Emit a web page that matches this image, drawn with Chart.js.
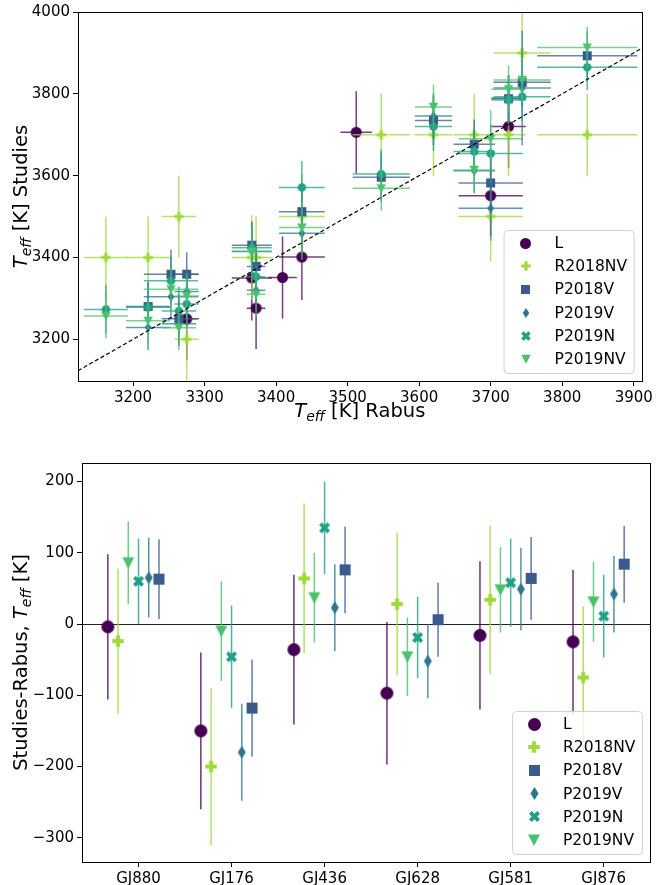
<!DOCTYPE html>
<html>
<head>
<meta charset="utf-8">
<script src="https://cdn.jsdelivr.net/npm/chart.js@4.4.1/dist/chart.umd.min.js"></script>
<style>
  body { margin: 0; background: #fff; }
  #wrap { position: relative; width: 656px; height: 885px; }
  canvas { position: absolute; left: 0; }
</style>
</head>
<body>
<div id="wrap">
  <canvas id="topChart" width="656" height="430" style="top:0"></canvas>
  <canvas id="bottomChart" width="656" height="455" style="top:430px"></canvas>
</div>
<script>
// ---- top panel: Teff of each star, Rabus (x) vs the studies (y) ----
const rabusTeff = [3162, 3221, 3253, 3264, 3275, 3366, 3372, 3409, 3436, 3512, 3547, 3620, 3677, 3700, 3725, 3744, 3835];
const rabusErr  = [31, 31, 38, 24, 17, 28, 13, 20, 32, 22, 40, 26, 29, 45, 24, 40, 70];

const teffL       = [null, null, null, null, 3250, 3350, 3276, 3351, 3401, 3706, null, null, null, 3551, 3720, null, null];
const errL        = [null, null, null, null, 101, 104, 100, 100, 105, 100, null, null, null, 110, 102, null, null];
const teffR2018NV = [3400, 3400, null, 3500, 3200, 3400, 3400, null, 3500, null, 3700, 3700, 3700, 3500, 3700, 3900, 3700];
const errR2018NV  = [100, 100, null, 100, 100, 104, 100, null, 105, null, 100, 100, 100, 110, 102, 100, 100];
const teffP2018V  = [null, 3280, 3359, 3250, 3359, 3430, 3378, null, 3512, null, 3596, 3735, 3677, 3582, 3788, 3828, 3893];
const errP2018V   = [null, 60, 60, 60, 54, 58, 52, null, 61, null, 60, 60, 60, 68, 56, 60, 60];
const teffP2019V  = [null, 3229, 3304, 3238, 3317, 3415, 3320, null, 3459, null, null, 3746, 3612, 3520, 3790, 3814, null];
const errP2019V   = [null, 55, 55, 55, 54, 58, 52, null, 61, null, null, 55, 55, 68, 56, 140, null];
const teffP2019N  = [3273, 3278, 3343, 3269, 3286, 3424, 3353, null, 3571, null, 3604, 3720, 3659, 3654, 3785, 3793, 3865];
const errP2019N   = [60, 60, 60, 60, 58, 62, 57, null, 65, null, 60, 60, 60, 72, 60, 60, 56];
const teffP2019NV = [3257, 3245, 3322, 3228, 3306, 3414, 3310, null, 3473, null, 3569, 3768, 3614, 3690, 3811, 3834, 3913];
const errP2019NV  = [55, 55, 55, 55, 56, 60, 55, null, 63, null, 55, 55, 55, 70, 58, 55, 51];

// ---- bottom panel: Studies - Rabus per star ----
const stars       = ['GJ880', 'GJ176', 'GJ436', 'GJ628', 'GJ581', 'GJ876'];
const diffL       = [-4, -150, -36, -97, -16, -25];
const dErrL       = [102, 110, 105, 100, 104, 101];
const diffR2018NV = [-24, -200, 64, 28, 34, -75];
const dErrR2018NV = [102, 110, 105, 100, 104, 100];
const diffP2018V  = [63, -118, 76, 6, 64, 84];
const dErrP2018V  = [56, 68, 61, 52, 58, 54];
const diffP2019V  = [65, -180, 23, -52, 49, 42];
const dErrP2019V  = [56, 68, 61, 52, 58, 54];
const diffP2019N  = [60, -46, 135, -19, 58, 11];
const dErrP2019N  = [60, 72, 65, 57, 62, 58];
const diffP2019NV = [86, -10, 37, -46, 48, 31];
const dErrP2019NV = [58, 70, 63, 55, 60, 56];

const topXTicks = [3200, 3300, 3400, 3500, 3600, 3700, 3800, 3900];
const topYTicks = [3200, 3400, 3600, 3800, 4000];
const botYTicks = [-300, -200, -100, 0, 100, 200];

const FONT = 'DejaVu Sans';
Chart.defaults.font.family = FONT;
Chart.defaults.font.size = 15;
Chart.defaults.color = '#000';
Chart.defaults.animation = false;

const names  = ['L', 'R2018NV', 'P2018V', 'P2019V', 'P2019N', 'P2019NV'];
const colors = ['#440154', '#a0da39', '#3a5b8c', '#2a788e', '#20a086', '#4ac16d'];

function rgba(hex, a) {
  const n = parseInt(hex.slice(1), 16);
  return 'rgba(' + (n >> 16) + ',' + ((n >> 8) & 255) + ',' + (n & 255) + ',' + a + ')';
}

function poly(g, pts) {
  g.moveTo(pts[0][0], pts[0][1]);
  for (let i = 1; i < pts.length; i++) g.lineTo(pts[i][0], pts[i][1]);
  g.closePath();
}

// matplotlib-like filled markers as small canvases
function makeMarker(shape, size, color, wd) {
  wd = wd || size;
  const dim = Math.ceil(Math.max(size, wd)) + 2;
  const c = document.createElement('canvas');
  c.width = dim; c.height = dim;
  const g = c.getContext('2d');
  g.translate(dim / 2, dim / 2);
  g.fillStyle = color;
  const r = size / 2, rw = wd / 2;
  g.beginPath();
  if (shape === 'o') g.arc(0, 0, r, 0, Math.PI * 2);
  else if (shape === 's') g.rect(-r, -r, size, size);
  else if (shape === 'd') poly(g, [[0, -r], [rw, 0], [0, r], [-rw, 0]]);
  else if (shape === 'v') poly(g, [[-r, -r * 0.9], [r, -r * 0.9], [0, r]]);
  else if (shape === 'P') {
    const t = size / 6;
    poly(g, [[-t, -r], [t, -r], [t, -t], [r, -t], [r, t], [t, t], [t, r], [-t, r], [-t, t], [-r, t], [-r, -t], [-t, -t]]);
  } else if (shape === 'X') {
    const u = size / 4;
    poly(g, [[-u, -2 * u], [0, -u], [u, -2 * u], [2 * u, -u], [u, 0], [2 * u, u], [u, 2 * u], [0, u], [-u, 2 * u], [-2 * u, u], [-u, 0], [-2 * u, -u]]);
  }
  g.fill();
  return c;
}

const topMarkers = [
  makeMarker('o', 11, colors[0]),
  makeMarker('P', 9.5, colors[1]),
  makeMarker('s', 9, colors[2]),
  makeMarker('d', 10, colors[3], 6.5),
  makeMarker('o', 8.5, colors[4]),
  makeMarker('v', 9.5, colors[5])
];
const topLegendMarkers = topMarkers.slice();
topLegendMarkers[4] = makeMarker('X', 9.5, colors[4]);

const botMarkers = [
  makeMarker('o', 13, colors[0]),
  makeMarker('P', 11.5, colors[1]),
  makeMarker('s', 11, colors[2]),
  makeMarker('d', 13, colors[3], 8),
  makeMarker('X', 11, colors[4]),
  makeMarker('v', 12, colors[5])
];

// draw "T_eff" style label pieces centred at (cx, cy)
function drawMathLabel(ctx, parts, cx, cy, rot) {
  ctx.save();
  ctx.translate(cx, cy);
  if (rot) ctx.rotate(-Math.PI / 2);
  ctx.fillStyle = '#000';
  ctx.textBaseline = 'alphabetic';
  ctx.textAlign = 'left';
  const fonts = { n: '19.5px ' + FONT, i: 'italic 19.5px ' + FONT, s: 'italic 14px ' + FONT };
  let total = 0;
  parts.forEach(p => { ctx.font = fonts[p[1]]; total += ctx.measureText(p[0]).width; });
  let x = -total / 2;
  parts.forEach(p => {
    ctx.font = fonts[p[1]];
    ctx.fillText(p[0], x, p[1] === 's' ? 11 : 7);
    x += ctx.measureText(p[0]).width;
  });
  ctx.restore();
}

function makeDecor(cfg) {
  return {
    id: 'decor',
    beforeDatasetsDraw(chart) {
      if (!cfg.zeroLine) return;
      const a = chart.chartArea, ctx = chart.ctx;
      const y = Math.round(chart.scales.y.getPixelForValue(0)) + 0.5;
      ctx.save();
      ctx.strokeStyle = '#222';
      ctx.lineWidth = 1;
      ctx.beginPath(); ctx.moveTo(a.left, y); ctx.lineTo(a.right, y); ctx.stroke();
      ctx.restore();
    },
    beforeDatasetDraw(chart, args) {
      const ds = chart.data.datasets[args.index];
      if (!ds.errY) return;
      const a = chart.chartArea, ctx = chart.ctx;
      const xs = chart.scales.x, ys = chart.scales.y;
      ctx.save();
      ctx.beginPath(); ctx.rect(a.left, a.top, a.right - a.left, a.bottom - a.top); ctx.clip();
      ctx.strokeStyle = ds.barColor;
      ctx.lineWidth = 1.5;
      ds.data.forEach((p, i) => {
        const px = xs.getPixelForValue(p.x), py = ys.getPixelForValue(p.y);
        ctx.beginPath();
        ctx.moveTo(px, ys.getPixelForValue(p.y - ds.errY[i]));
        ctx.lineTo(px, ys.getPixelForValue(p.y + ds.errY[i]));
        if (ds.errX) {
          ctx.moveTo(xs.getPixelForValue(p.x - ds.errX[i]), py);
          ctx.lineTo(xs.getPixelForValue(p.x + ds.errX[i]), py);
        }
        ctx.stroke();
      });
      ctx.restore();
    },
    afterDraw(chart) {
      const a = chart.chartArea, ctx = chart.ctx;
      ctx.save();
      // frame
      ctx.strokeStyle = '#000';
      ctx.lineWidth = 1;
      ctx.strokeRect(Math.round(a.left) + 0.5, Math.round(a.top) + 0.5,
                     Math.round(a.right - a.left), Math.round(a.bottom - a.top));
      ctx.restore();
      // axis titles
      if (cfg.xTitle) drawMathLabel(ctx, cfg.xTitle, (a.left + a.right) / 2, cfg.xTitleY, false);
      drawMathLabel(ctx, cfg.yTitle, 20, (a.top + a.bottom) / 2, true);
      // legend box in lower right corner
      const bw = 130, rowH = 23.2, bh = 143;
      const bx = a.right - 8 - bw, by = a.bottom - 8 - bh;
      ctx.save();
      ctx.fillStyle = 'rgba(255,255,255,0.8)';
      ctx.strokeStyle = 'rgba(204,204,204,0.9)';
      ctx.lineWidth = 1;
      ctx.beginPath();
      ctx.roundRect(bx + 0.5, by + 0.5, bw, bh, 4);
      ctx.fill(); ctx.stroke();
      ctx.fillStyle = '#000';
      ctx.font = '15.5px ' + FONT;
      ctx.textBaseline = 'middle';
      ctx.textAlign = 'left';
      names.forEach((n, k) => {
        const cy = by + 13 + k * rowH;
        const m = cfg.legendMarkers[k];
        ctx.drawImage(m, Math.round(bx + 22 - m.width / 2), Math.round(cy - m.height / 2));
        ctx.fillText(n, bx + 51, cy + 1);
      });
      ctx.restore();
    }
  };
}

const minus = v => String(v).replace('-', '\u2212');

function axisBase(extra) {
  return Object.assign({
    type: 'linear',
    grid: { drawOnChartArea: false, drawTicks: true, tickLength: 5, tickColor: '#000', tickWidth: 1 },
    border: { display: true, color: '#000', width: 1 },
    ticks: { color: '#000', font: { size: 15 }, padding: 3, autoSkip: false, maxRotation: 0 }
  }, extra);
}

// ---------- top chart ----------
const topSeries = [
  [teffL, errL], [teffR2018NV, errR2018NV], [teffP2018V, errP2018V],
  [teffP2019V, errP2019V], [teffP2019N, errP2019N], [teffP2019NV, errP2019NV]
];
const topXMin = 3123, topXMax = 3911;

const topDatasets = topSeries.map((s, k) => {
  const pts = [], ex = [], ey = [];
  rabusTeff.forEach((x, i) => {
    if (s[0][i] === null) return;
    pts.push({ x: x, y: s[0][i] });
    ex.push(rabusErr[i]);
    ey.push(s[1][i]);
  });
  return {
    label: names[k], data: pts, errX: ex, errY: ey,
    barColor: rgba(colors[k], 0.75),
    pointStyle: topMarkers[k], pointRadius: 5, pointHoverRadius: 5,
    backgroundColor: colors[k], borderColor: colors[k],
    order: 10 - k
  };
});
topDatasets.push({
  type: 'line', label: '1:1',
  data: [{ x: topXMin, y: topXMin }, { x: topXMax, y: topXMax }],
  borderColor: '#000', borderWidth: 1.2, borderDash: [4, 2.5],
  pointRadius: 0, fill: false, order: 0
});

new Chart(document.getElementById('topChart'), {
  type: 'scatter',
  data: { datasets: topDatasets },
  options: {
    responsive: false,
    layout: { padding: { left: 0, right: 14, top: 12, bottom: 0 } },
    plugins: { legend: { display: false }, tooltip: { enabled: false } },
    scales: {
      x: axisBase({
        min: topXMin, max: topXMax,
        afterBuildTicks: s => { s.ticks = topXTicks.map(v => ({ value: v })); },
        afterFit: s => { s.height = 49; },
        ticks: { color: '#000', font: { size: 15 }, padding: 3, autoSkip: false, maxRotation: 0, callback: v => String(v) }
      }),
      y: axisBase({
        min: 3098, max: 4000,
        afterBuildTicks: s => { s.ticks = topYTicks.map(v => ({ value: v })); },
        afterFit: s => { s.width = 78; },
        ticks: { color: '#000', font: { size: 15 }, padding: 3, autoSkip: false, callback: v => String(v) }
      })
    }
  },
  plugins: [makeDecor({
    xTitle: [['T', 'i'], ['eff', 's'], [' [K] Rabus', 'n']], xTitleY: 410,
    yTitle: [['T', 'i'], ['eff', 's'], [' [K] Studies', 'n']],
    legendMarkers: topLegendMarkers
  })]
});

// ---------- bottom chart ----------
const botSeries = [
  [diffL, dErrL], [diffR2018NV, dErrR2018NV], [diffP2018V, dErrP2018V],
  [diffP2019V, dErrP2019V], [diffP2019N, dErrP2019N], [diffP2019NV, dErrP2019NV]
];
const dodge = [-0.33, -0.22, 0.22, 0.11, 0, -0.11];

const botDatasets = botSeries.map((s, k) => ({
  label: names[k],
  data: s[0].map((v, i) => ({ x: i + dodge[k], y: v })),
  errY: s[1],
  barColor: rgba(colors[k], 0.8),
  pointStyle: botMarkers[k], pointRadius: 5, pointHoverRadius: 5,
  backgroundColor: colors[k], borderColor: colors[k],
  order: 10 - k
}));

new Chart(document.getElementById('bottomChart'), {
  type: 'scatter',
  data: { datasets: botDatasets },
  options: {
    responsive: false,
    layout: { padding: { left: 0, right: 2, top: 33, bottom: 0 } },
    plugins: { legend: { display: false }, tooltip: { enabled: false } },
    scales: {
      x: axisBase({
        min: -0.6075, max: 5.4975,
        afterBuildTicks: s => { s.ticks = stars.map((n, i) => ({ value: i })); },
        afterFit: s => { s.height = 23; },
        ticks: { color: '#000', font: { size: 15 }, padding: 3, autoSkip: false, maxRotation: 0, callback: v => stars[Math.round(v)] }
      }),
      y: axisBase({
        min: -334, max: 226,
        afterBuildTicks: s => { s.ticks = botYTicks.map(v => ({ value: v })); },
        afterFit: s => { s.width = 82; },
        ticks: { color: '#000', font: { size: 15 }, padding: 3, autoSkip: false, callback: v => minus(v) }
      })
    }
  },
  plugins: [makeDecor({
    zeroLine: true,
    yTitle: [['Studies-Rabus, ', 'n'], ['T', 'i'], ['eff', 's'], [' [K]', 'n']],
    legendMarkers: botMarkers
  })]
});
</script>
</body>
</html>
